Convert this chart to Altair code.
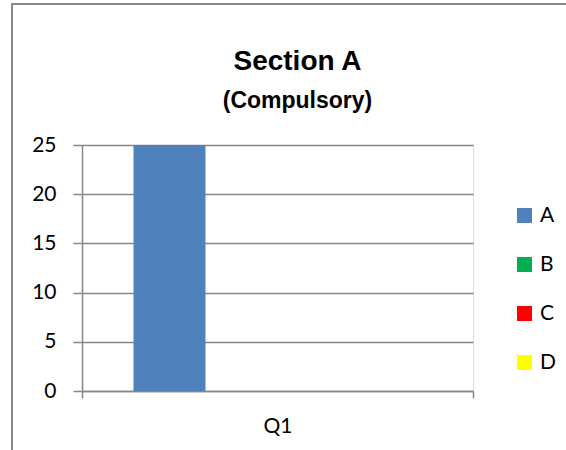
import altair as alt
import pandas as pd

questions = ["Q1"]
series = ["A", "B", "C", "D"]
values = [25, 0, 0, 0]
colors = ["#4F81BD", "#00B050", "#FF0000", "#FFFF00"]
y_ticks = [0, 5, 10, 15, 20, 25]

df = pd.DataFrame({
    "question": [questions[0]] * len(series),
    "series": series,
    "value": values,
})

GRAY = "#878787"
LABEL_FONT = "Lato"

bars = alt.Chart(df).mark_bar(size=72).encode(
    x=alt.X("question:N", title=None,
            scale=alt.Scale(paddingInner=0, paddingOuter=0),
            axis=alt.Axis(labelAngle=0, tickBand="extent", domainColor=GRAY,
                          domainWidth=1.5, tickColor=GRAY, tickWidth=1.5,
                          tickSize=7, labelFont=LABEL_FONT, labelFontSize=21,
                          labelColor="black", labelPadding=17, grid=False)),
    xOffset=alt.XOffset("series:N", scale=alt.Scale(domain=series, paddingInner=0, paddingOuter=0.715)),
    y=alt.Y("value:Q", title=None,
            scale=alt.Scale(domain=[0, 25], nice=False),
            axis=alt.Axis(values=y_ticks, domainColor=GRAY, domainWidth=1.5,
                          tickColor=GRAY, tickWidth=1.5, tickSize=9,
                          gridColor=GRAY, gridWidth=1.5, labelFont=LABEL_FONT,
                          labelFontSize=21, labelColor="black", labelPadding=17)),
    color=alt.Color("series:N", title=None,
                    scale=alt.Scale(domain=series, range=colors),
                    legend=alt.Legend(orient="none", legendX=432, legendY=60,
                                      symbolType="square", symbolSize=225,
                                      symbolStrokeWidth=0, labelFont=LABEL_FONT,
                                      labelFontSize=21, labelColor="black",
                                      labelOffset=5, rowPadding=27)),
)

frame = alt.Chart(pd.DataFrame({"f": [0]})).mark_rect(
    fill=None, stroke="#8a8a8a", strokeWidth=2, clip=False
).encode(
    x=alt.value(-70), x2=alt.value(520), y=alt.value(-141), y2=alt.value(320)
)

chart = alt.layer(bars, frame).properties(
    width=391, height=246,
    title=alt.TitleParams(text="Section A", subtitle="(Compulsory)",
                          anchor="middle", frame="group", dx=20,
                          font="Liberation Sans", fontSize=28, fontWeight="bold",
                          color="black", subtitleFont="Liberation Sans",
                          subtitleFontSize=23, subtitleFontWeight="bold",
                          subtitleColor="black", subtitlePadding=14, offset=-110),
    autosize=alt.AutoSizeParams(type="none"),
    padding={"left": 82, "top": 145, "right": 93, "bottom": 59},
).configure_view(stroke=None).configure(background="white")

chart.save("out.html", embed_options={"renderer": "svg", "actions": False})
